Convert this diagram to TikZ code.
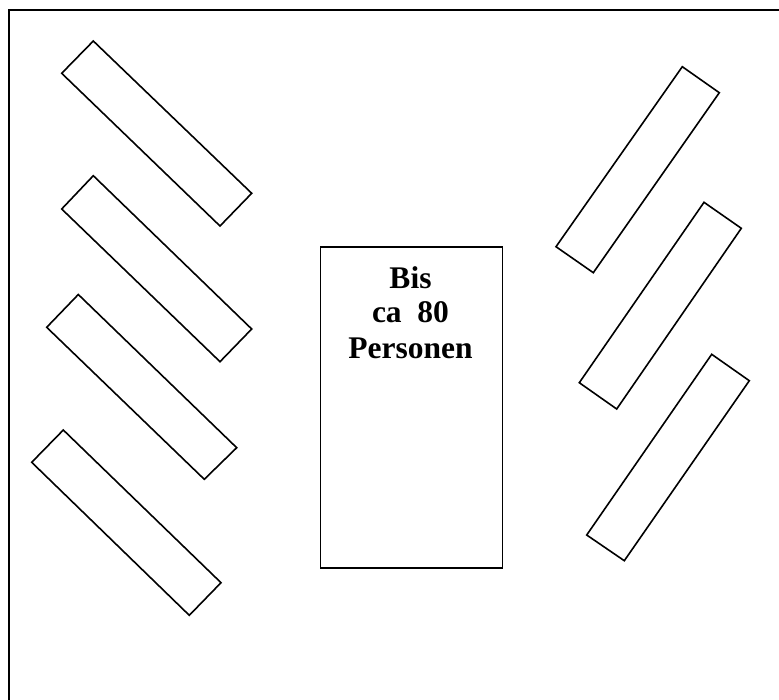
\documentclass[tikz,border=0pt]{standalone}
\usepackage{fontspec}
\setmainfont{Liberation Serif}
\begin{document}
\begin{tikzpicture}[x=1pt,y=-1pt,
  bench/.style={draw=black,line width=1.6pt,line join=miter},
  frame/.style={draw=black,line width=2.2pt},
  tablebox/.style={draw=black,line width=1.6pt,minimum width=182pt,minimum height=321pt,inner sep=0pt,anchor=north west},
  lbl/.style={anchor=base,inner sep=0pt,font=\fontsize{31.5}{35}\selectfont\bfseries}]
\useasboundingbox (0,0) rectangle (779,699);
% outer frame (right and bottom edges lie beyond the picture)
\draw[frame] (9,10) -- (781,10) -- (781,712) -- (9,712) -- cycle;
% left benches
\draw[bench] (93.3,41) -- (251.7,193.3) -- (220,226) -- (61.7,73.3) -- cycle;
\draw[bench] (93.3,175.7) -- (251.7,329) -- (220,361.7) -- (61.7,209) -- cycle;
\draw[bench] (78.3,294.5) -- (236.7,447.7) -- (204.3,479.3) -- (46.7,327.3) -- cycle;
\draw[bench] (63.3,430) -- (221,582.7) -- (189.3,615.3) -- (31.7,462.3) -- cycle;
% right benches
\draw[bench] (682.3,66.7) -- (719.3,92.7) -- (593.3,272.7) -- (556,246.7) -- cycle;
\draw[bench] (704,202.3) -- (741.3,228.3) -- (616.7,409) -- (579.3,382.7) -- cycle;
\draw[bench] (711.7,354.3) -- (749.3,380.7) -- (624.3,560.7) -- (586.7,535) -- cycle;
% central table
\node[tablebox] (table) at (319.5,246) {};
\node[lbl] (t1) at (410.5,288.3) {Bis};
\node[lbl] (t2) at (410.5,322.7) {ca\ \ 80};
\node[lbl] (t3) at (410.5,358.3) {Personen};
\end{tikzpicture}
\end{document}
